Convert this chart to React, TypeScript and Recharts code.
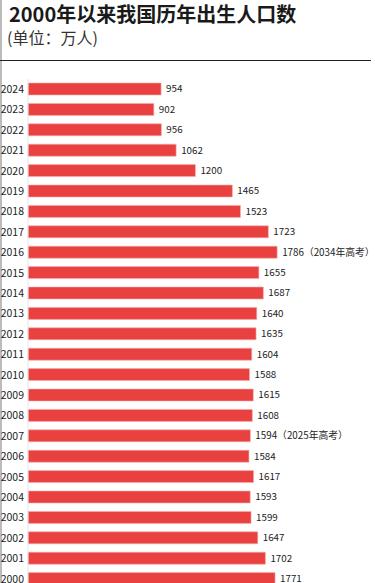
import React from "react";
import { BarChart, Bar, XAxis, YAxis, LabelList } from "recharts";

const years = ["2024","2023","2022","2021","2020","2019","2018","2017","2016","2015","2014","2013","2012","2011","2010","2009","2008","2007","2006","2005","2004","2003","2002","2001","2000"];
const births = [954,902,956,1062,1200,1465,1523,1723,1786,1655,1687,1640,1635,1604,1588,1615,1608,1594,1584,1617,1593,1599,1647,1702,1771];
const notes: Record<string, string> = { "2016": "（2034年高考）", "2007": "（2025年高考）" };

const title = "2000年以来我国历年出生人口数";
const subtitle = "(单位：万人)";

const data = years.map((y, i) => ({ year: y, value: births[i], label: String(births[i]) + (notes[y] || "") }));

const FONT = '"Noto Sans CJK SC", "Noto Sans", sans-serif';

export default function App() {
  return (
    <div style={{ position: "absolute", left: 0, top: 0, width: 375, height: 583, overflow: "hidden", background: "#fff", fontFamily: FONT }}>
      <div style={{ position: "absolute", left: 0, top: 0, width: 2, height: 583, background: "#bbb" }} />
      <div style={{ position: "absolute", left: 9, top: 3, fontSize: 20, fontWeight: 700, color: "#1a1a1a", lineHeight: "22px", whiteSpace: "nowrap" }}>{title}</div>
      <div style={{ position: "absolute", left: 7, top: 28, fontSize: 16, color: "#333", lineHeight: "18px", whiteSpace: "nowrap" }}>{subtitle}</div>
      <div style={{ position: "absolute", left: 0, top: 60, width: 371, height: 1, background: "#222" }} />
      <div style={{ position: "absolute", left: 0, top: 0 }}>
        <BarChart width={375} height={600} data={data} layout="vertical" margin={{ top: 79, right: 68, bottom: 11, left: 0 }} barCategoryGap={4}>
          <XAxis type="number" domain={[0, 2000]} hide />
          <YAxis type="category" dataKey="year" width={28} tickSize={0} tickMargin={4} axisLine={{ stroke: "#e6e6e6" }} tickLine={false} interval={0} tick={{ fontSize: 10.5, fill: "#222", fontFamily: FONT }} />
          <Bar dataKey="value" fill="#E8413F" stroke="#f3b0ae" strokeWidth={0.6} isAnimationActive={false}>
            <LabelList dataKey="label" position="right" offset={5} style={{ fontSize: 9.8, fill: "#222", fontFamily: FONT }} />
          </Bar>
        </BarChart>
      </div>
    </div>
  );
}
